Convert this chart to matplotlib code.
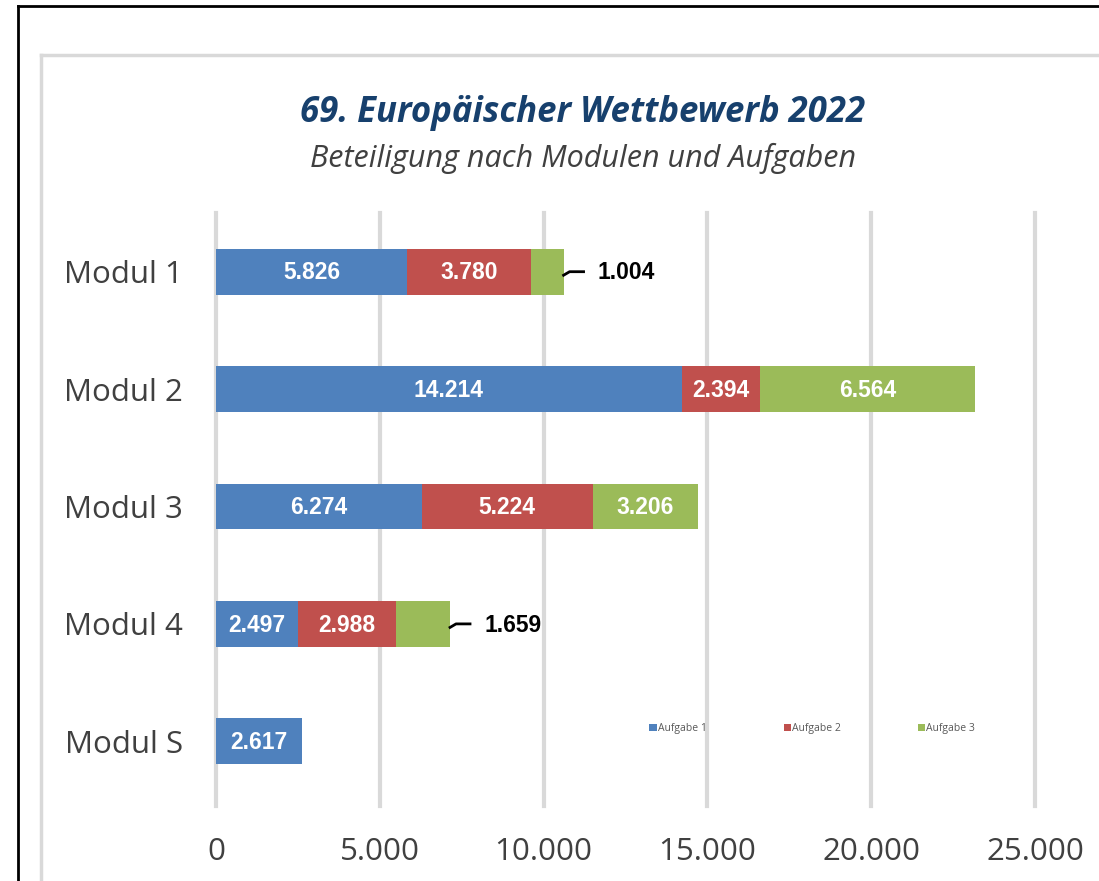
import matplotlib.pyplot as plt
from matplotlib.lines import Line2D
from matplotlib.ticker import FuncFormatter

# Daten
module = ["Modul 1", "Modul 2", "Modul 3", "Modul 4", "Modul S"]
aufgabe1 = [5826, 14214, 6274, 2497, 2617]
aufgabe2 = [3780, 2394, 5224, 2988, 0]
aufgabe3 = [1004, 6564, 3206, 1659, 0]
serien = ["Aufgabe 1", "Aufgabe 2", "Aufgabe 3"]
farben = ["#4F81BD", "#C0504D", "#9BBB59"]
xticks = [0, 5000, 10000, 15000, 20000, 25000]


def de(v):
    return f"{v:,.0f}".replace(",", ".")


fig = plt.figure(figsize=(10.99, 8.81), dpi=100)
W, H = 1099, 881

# Rahmen (schwarz aussen, grau innen)
fig.add_artist(Line2D([18 / W, 18 / W], [0, 1 - 6 / H], color="black", lw=2, transform=fig.transFigure))
fig.add_artist(Line2D([18 / W, 1], [1 - 6 / H, 1 - 6 / H], color="black", lw=2, transform=fig.transFigure))
fig.add_artist(Line2D([41 / W, 41 / W], [0, 1 - 55 / H], color="#D9D9D9", lw=2.5, transform=fig.transFigure))
fig.add_artist(Line2D([41 / W, 1], [1 - 55 / H, 1 - 55 / H], color="#D9D9D9", lw=2.5, transform=fig.transFigure))

ax = fig.add_axes([216 / W, 1 - 800 / H, (1035 - 216) / W, (800 - 213) / H])

y = list(range(len(module)))
links = [0] * len(module)
for werte, name, farbe in zip([aufgabe1, aufgabe2, aufgabe3], serien, farben):
    ax.barh(y, werte, left=links, height=0.39, color=farbe, label=name, zorder=3)
    for i, v in enumerate(werte):
        if v == 0:
            continue
        if v >= 2000:
            ax.text(links[i] + v / 2, i + 0.01, de(v), ha="center", va="center", color="white",
                    fontsize=16.5, fontweight="bold", family="Liberation Sans", zorder=4)
        else:
            ende = links[i] + v
            px = 30.5  # Datenwert pro Pixel
            ax.plot([ende, ende + 6 * px, ende + 20 * px], [i + 0.03, i, i], color="black", lw=2, zorder=4)
            ax.text(ende + 34 * px, i + 0.01, de(v), ha="left", va="center", color="black",
                    fontsize=16.5, fontweight="bold", family="Liberation Sans", zorder=4)
    links = [l + v for l, v in zip(links, werte)]

ax.set_xlim(0, 25000)
ax.set_ylim(4.5, -0.5)
ax.set_yticks(y)
ax.set_yticklabels(module, fontsize=22.5, color="#404040", family="Open Sans")
ax.set_xticks(xticks)
ax.xaxis.set_major_formatter(FuncFormatter(lambda v, p: de(v)))
ax.tick_params(axis="x", labelsize=22.5, labelcolor="#404040", length=0, pad=27)
ax.tick_params(axis="y", length=0, pad=24)
for lab in ax.get_xticklabels():
    lab.set_family("Open Sans")
for s in ax.spines.values():
    s.set_visible(False)
for xv in xticks:
    ax.plot([xv, xv], [-0.5, 4.55], color="#D9D9D9", lw=3, zorder=1, clip_on=False)

leg = ax.legend(loc="center", bbox_to_anchor=(0.728, 0.121), ncol=3, frameon=False,
                handlelength=0.7, handleheight=0.7, handletextpad=0.1,
                columnspacing=7.4, prop={"family": "Open Sans", "size": 7.5})
for t in leg.get_texts():
    t.set_color("#595959")

fig.text(583 / W, 1 - 113 / H, "69. Europäischer Wettbewerb 2022", ha="center", va="center",
         fontsize=25, fontweight="bold", style="italic", color="#17406D", family="Open Sans")
fig.text(583 / W, 1 - 158 / H, "Beteiligung nach Modulen und Aufgaben", ha="center", va="center",
         fontsize=22, style="italic", color="#404040", family="Open Sans")

fig.savefig("out.png", dpi=100, facecolor="white")
